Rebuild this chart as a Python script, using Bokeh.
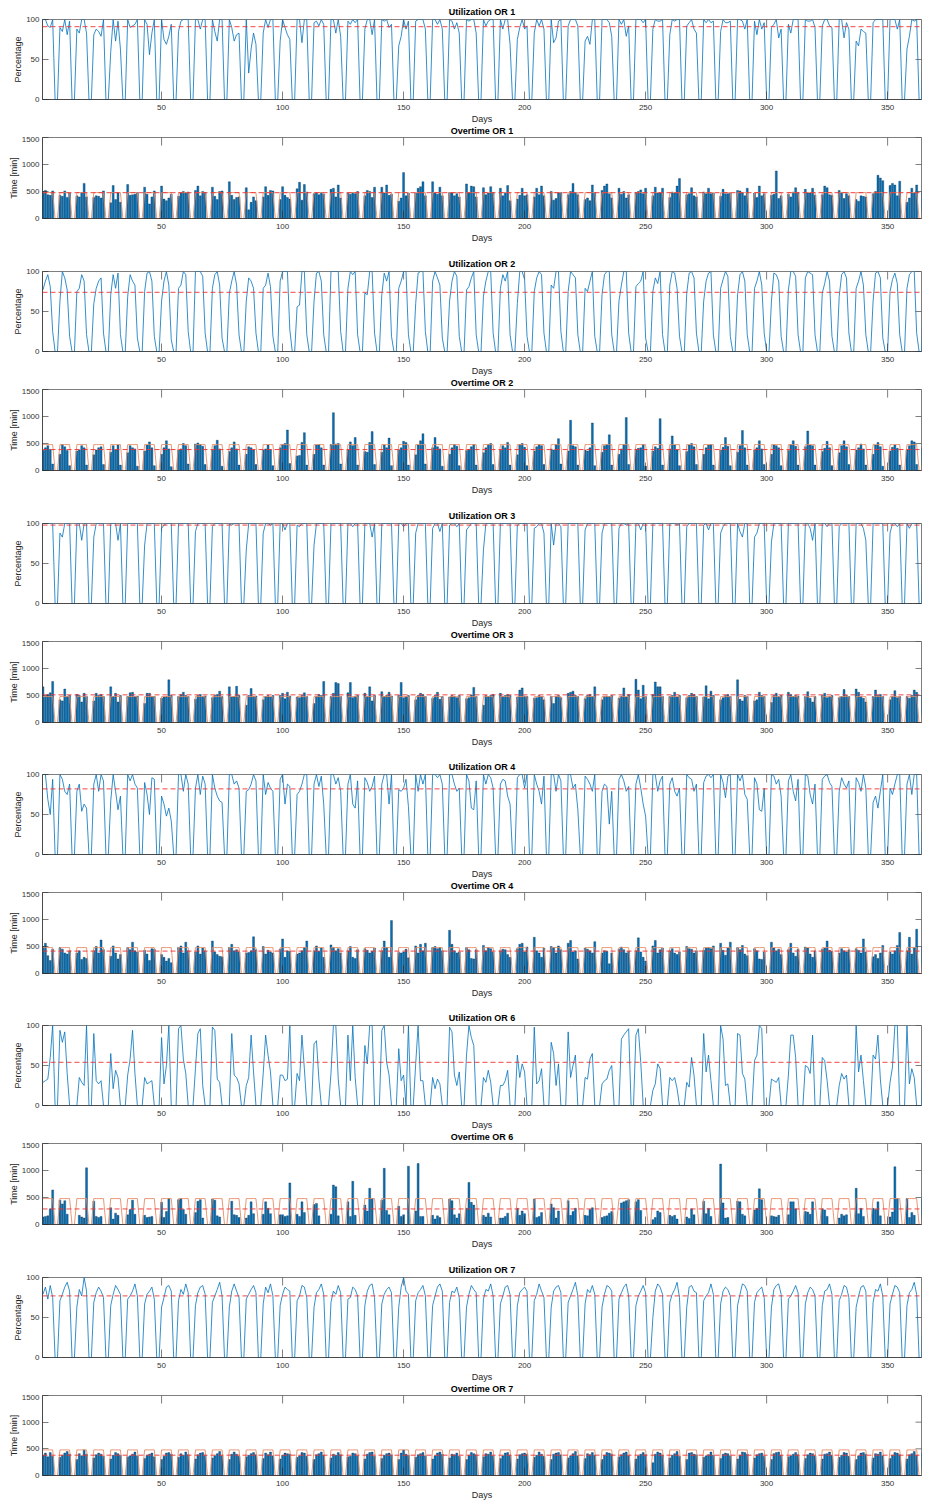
from bokeh.plotting import figure
from bokeh.layouts import column
from bokeh.models import Range1d, FixedTicker, Span, Title
from bokeh.embed import file_html
from bokeh.resources import INLINE

# ---------------------------------------------------------------- data
days = list(range(1, 366))
x_ticks = [50, 100, 150, 200, 250, 300, 350]
util_ticks = [0, 50, 100]
time_ticks = [0, 500, 1000, 1500]
X_START, X_END = 0.8, 364.0

# daily block capacity in minutes (weekdays 480, weekends closed)
capacity = [
    480, 480, 480, 480, 480, 0, 0, 480, 480, 480, 480, 480, 0, 0,
    480, 480, 480, 480, 480, 0, 0, 480, 480, 480, 480, 480, 0, 0,
    480, 480, 480, 480, 480, 0, 0, 480, 480, 480, 480, 480, 0, 0,
    480, 480, 480, 480, 480, 0, 0, 480, 480, 480, 480, 480, 0, 0,
    480, 480, 480, 480, 480, 0, 0, 480, 480, 480, 480, 480, 0, 0,
    480, 480, 480, 480, 480, 0, 0, 480, 480, 480, 480, 480, 0, 0,
    480, 480, 480, 480, 480, 0, 0, 480, 480, 480, 480, 480, 0, 0,
    480, 480, 480, 480, 480, 0, 0, 480, 480, 480, 480, 480, 0, 0,
    480, 480, 480, 480, 480, 0, 0, 480, 480, 480, 480, 480, 0, 0,
    480, 480, 480, 480, 480, 0, 0, 480, 480, 480, 480, 480, 0, 0,
    480, 480, 480, 480, 480, 0, 0, 480, 480, 480, 480, 480, 0, 0,
    480, 480, 480, 480, 480, 0, 0, 480, 480, 480, 480, 480, 0, 0,
    480, 480, 480, 480, 480, 0, 0, 480, 480, 480, 480, 480, 0, 0,
    480, 480, 480, 480, 480, 0, 0, 480, 480, 480, 480, 480, 0, 0,
    480, 480, 480, 480, 480, 0, 0, 480, 480, 480, 480, 480, 0, 0,
    480, 480, 480, 480, 480, 0, 0, 480, 480, 480, 480, 480, 0, 0,
    480, 480, 480, 480, 480, 0, 0, 480, 480, 480, 480, 480, 0, 0,
    480, 480, 480, 480, 480, 0, 0, 480, 480, 480, 480, 480, 0, 0,
    480, 480, 480, 480, 480, 0, 0, 480, 480, 480, 480, 480, 0, 0,
    480, 480, 480, 480, 480, 0, 0, 480, 480, 480, 480, 480, 0, 0,
    480, 480, 480, 480, 480, 0, 0, 480, 480, 480, 480, 480, 0, 0,
    480, 480, 480, 480, 480, 0, 0, 480, 480, 480, 480, 480, 0, 0,
    480, 480, 480, 480, 480, 0, 0, 480, 480, 480, 480, 480, 0, 0,
    480, 480, 480, 480, 480, 0, 0, 480, 480, 480, 480, 480, 0, 0,
    480, 480, 480, 480, 480, 0, 0, 480, 480, 480, 480, 480, 0, 0,
    480, 480, 480, 480, 480, 0, 0, 480, 480, 480, 480, 480, 0, 0,
    480,
]

# ---- OR 1
or1_minutes = [
    500, 520, 440, 430, 510, 0, 0,
    430, 410, 510, 390, 470, 0, 0,
    420, 400, 480, 650, 400, 0, 0,
    390, 420, 410, 380, 510, 0, 0,
    290, 610, 350, 470, 300, 0, 0,
    630, 430, 440, 450, 480, 0, 0,
    580, 450, 270, 400, 510, 0, 0,
    600, 360, 330, 380, 450, 0, 0,
    410, 470, 500, 480, 490, 0, 0,
    520, 600, 420, 500, 480, 0, 0,
    580, 410, 350, 500, 510, 0, 0,
    680, 430, 350, 390, 400, 0, 0,
    570, 160, 300, 400, 330, 0, 0,
    400, 590, 430, 520, 510, 0, 0,
    350, 590, 430, 390, 360, 0, 0,
    550, 670, 340, 630, 490, 0, 0,
    460, 470, 440, 480, 450, 0, 0,
    540, 560, 400, 620, 380, 0, 0,
    470, 450, 480, 460, 500, 0, 0,
    420, 520, 500, 390, 580, 0, 0,
    580, 470, 620, 430, 450, 0, 0,
    320, 380, 850, 420, 470, 0, 0,
    470, 560, 590, 680, 420, 0, 0,
    680, 480, 450, 580, 420, 0, 0,
    480, 470, 420, 460, 400, 0, 0,
    640, 470, 600, 590, 400, 0, 0,
    570, 440, 470, 590, 480, 0, 0,
    560, 420, 480, 610, 330, 0, 0,
    360, 430, 560, 420, 440, 0, 0,
    400, 560, 440, 600, 420, 0, 0,
    500, 340, 370, 470, 480, 0, 0,
    440, 500, 650, 480, 440, 0, 0,
    350, 380, 330, 620, 480, 0, 0,
    520, 600, 640, 460, 380, 0, 0,
    560, 450, 500, 380, 440, 0, 0,
    480, 500, 530, 460, 560, 0, 0,
    420, 580, 470, 470, 560, 0, 0,
    390, 490, 470, 600, 740, 0, 0,
    440, 460, 570, 420, 400, 0, 0,
    490, 460, 560, 460, 470, 0, 0,
    410, 540, 460, 460, 470, 0, 0,
    520, 510, 470, 420, 560, 0, 0,
    470, 390, 600, 420, 460, 0, 0,
    430, 450, 880, 370, 420, 0, 0,
    450, 400, 490, 570, 480, 0, 0,
    540, 470, 470, 560, 430, 0, 0,
    440, 600, 570, 440, 430, 0, 0,
    520, 480, 370, 460, 420, 0, 0,
    350, 320, 420, 410, 400, 0, 0,
    460, 500, 800, 750, 700, 0, 0,
    610, 650, 620, 420, 690, 0, 0,
    300, 380, 560, 470, 620, 0, 0,
    500,
]
or1_util = [
    100, 100, 92, 90, 100, 0, 0,
    90, 85, 100, 81, 98, 0, 0,
    88, 83, 100, 100, 83, 0, 0,
    81, 88, 85, 79, 100, 0, 0,
    60, 100, 73, 98, 63, 0, 0,
    100, 90, 92, 94, 100, 0, 0,
    100, 94, 56, 83, 100, 0, 0,
    100, 75, 69, 79, 94, 0, 0,
    85, 98, 100, 100, 100, 0, 0,
    100, 100, 88, 100, 100, 0, 0,
    100, 85, 73, 100, 100, 0, 0,
    100, 90, 73, 81, 83, 0, 0,
    100, 33, 63, 83, 69, 0, 0,
    83, 100, 90, 100, 100, 0, 0,
    73, 100, 90, 81, 75, 0, 0,
    100, 100, 71, 100, 100, 0, 0,
    96, 98, 92, 100, 94, 0, 0,
    100, 100, 83, 100, 79, 0, 0,
    98, 94, 100, 96, 100, 0, 0,
    88, 100, 100, 81, 100, 0, 0,
    100, 98, 100, 90, 94, 0, 0,
    67, 79, 100, 88, 98, 0, 0,
    98, 100, 100, 100, 88, 0, 0,
    100, 100, 94, 100, 88, 0, 0,
    100, 98, 88, 96, 83, 0, 0,
    100, 98, 100, 100, 83, 0, 0,
    100, 92, 98, 100, 100, 0, 0,
    100, 88, 100, 100, 69, 0, 0,
    75, 90, 100, 88, 92, 0, 0,
    83, 100, 92, 100, 88, 0, 0,
    100, 71, 77, 98, 100, 0, 0,
    92, 100, 100, 100, 92, 0, 0,
    73, 79, 69, 100, 100, 0, 0,
    100, 100, 100, 96, 79, 0, 0,
    100, 94, 100, 79, 92, 0, 0,
    100, 100, 100, 96, 100, 0, 0,
    88, 100, 98, 98, 100, 0, 0,
    81, 100, 98, 100, 100, 0, 0,
    92, 96, 100, 88, 83, 0, 0,
    100, 96, 100, 96, 98, 0, 0,
    85, 100, 96, 96, 98, 0, 0,
    100, 100, 98, 88, 100, 0, 0,
    98, 81, 100, 88, 96, 0, 0,
    90, 94, 100, 77, 88, 0, 0,
    94, 83, 100, 100, 100, 0, 0,
    100, 98, 98, 100, 90, 0, 0,
    92, 100, 100, 92, 90, 0, 0,
    100, 100, 77, 96, 88, 0, 0,
    73, 67, 88, 85, 83, 0, 0,
    96, 100, 100, 100, 100, 0, 0,
    100, 100, 100, 88, 100, 0, 0,
    63, 79, 100, 98, 100, 0, 0,
    100,
]

# ---- OR 2
or2_minutes = [
    370, 420, 460, 390, 120, 0, 0,
    300, 480, 440, 370, 90, 0, 0,
    360, 380, 460, 420, 100, 0, 0,
    290, 380, 420, 440, 110, 0, 0,
    340, 460, 380, 470, 100, 0, 0,
    330, 460, 420, 400, 80, 0, 0,
    360, 470, 530, 420, 90, 0, 0,
    300, 420, 550, 400, 70, 0, 0,
    380, 400, 500, 460, 120, 0, 0,
    490, 510, 480, 450, 110, 0, 0,
    380, 460, 560, 400, 80, 0, 0,
    350, 420, 530, 400, 100, 0, 0,
    300, 440, 420, 380, 110, 0, 0,
    380, 400, 470, 390, 90, 0, 0,
    420, 480, 500, 750, 130, 0, 0,
    270, 280, 520, 700, 100, 0, 0,
    300, 470, 480, 420, 100, 0, 0,
    480, 1070, 490, 500, 120, 0, 0,
    380, 530, 460, 610, 100, 0, 0,
    350, 340, 520, 720, 110, 0, 0,
    340, 470, 420, 600, 90, 0, 0,
    380, 420, 540, 520, 100, 0, 0,
    290, 470, 550, 680, 120, 0, 0,
    420, 610, 440, 400, 80, 0, 0,
    300, 420, 480, 450, 90, 0, 0,
    370, 390, 440, 480, 100, 0, 0,
    330, 420, 480, 500, 110, 0, 0,
    380, 460, 420, 520, 100, 0, 0,
    290, 480, 500, 430, 90, 0, 0,
    360, 440, 480, 460, 110, 0, 0,
    400, 380, 480, 590, 120, 0, 0,
    360, 930, 460, 440, 100, 0, 0,
    380, 360, 420, 880, 90, 0, 0,
    340, 460, 480, 660, 100, 0, 0,
    300, 400, 480, 980, 110, 0, 0,
    390, 410, 420, 480, 80, 0, 0,
    360, 440, 410, 960, 100, 0, 0,
    400, 640, 470, 380, 90, 0, 0,
    350, 470, 500, 440, 110, 0, 0,
    300, 420, 470, 480, 100, 0, 0,
    380, 430, 610, 450, 90, 0, 0,
    340, 460, 740, 420, 100, 0, 0,
    380, 420, 550, 400, 110, 0, 0,
    300, 470, 460, 420, 90, 0, 0,
    370, 480, 550, 450, 100, 0, 0,
    440, 730, 470, 460, 100, 0, 0,
    350, 410, 540, 420, 90, 0, 0,
    330, 460, 550, 440, 110, 0, 0,
    380, 420, 490, 400, 100, 0, 0,
    300, 470, 520, 440, 80, 0, 0,
    360, 430, 470, 410, 100, 0, 0,
    380, 460, 550, 530, 110, 0, 0,
    420,
]
or2_util = [
    77, 88, 96, 81, 25, 0, 0,
    63, 100, 92, 77, 19, 0, 0,
    75, 79, 96, 88, 21, 0, 0,
    60, 79, 88, 92, 23, 0, 0,
    71, 96, 79, 98, 21, 0, 0,
    69, 96, 88, 83, 17, 0, 0,
    75, 98, 100, 88, 19, 0, 0,
    63, 88, 100, 83, 15, 0, 0,
    79, 83, 100, 96, 25, 0, 0,
    100, 100, 100, 94, 23, 0, 0,
    79, 96, 100, 83, 17, 0, 0,
    73, 88, 100, 83, 21, 0, 0,
    63, 92, 88, 79, 23, 0, 0,
    79, 83, 98, 81, 19, 0, 0,
    88, 100, 100, 100, 27, 0, 0,
    56, 58, 100, 100, 21, 0, 0,
    63, 98, 100, 88, 21, 0, 0,
    100, 100, 100, 100, 25, 0, 0,
    79, 100, 96, 100, 21, 0, 0,
    73, 71, 100, 100, 23, 0, 0,
    71, 98, 88, 100, 19, 0, 0,
    79, 88, 100, 100, 21, 0, 0,
    60, 98, 100, 100, 25, 0, 0,
    88, 100, 92, 83, 17, 0, 0,
    63, 88, 100, 94, 19, 0, 0,
    77, 81, 92, 100, 21, 0, 0,
    69, 88, 100, 100, 23, 0, 0,
    79, 96, 88, 100, 21, 0, 0,
    60, 100, 100, 90, 19, 0, 0,
    75, 92, 100, 96, 23, 0, 0,
    83, 79, 100, 100, 25, 0, 0,
    75, 100, 96, 92, 21, 0, 0,
    79, 75, 88, 100, 19, 0, 0,
    71, 96, 100, 100, 21, 0, 0,
    63, 83, 100, 100, 23, 0, 0,
    81, 85, 88, 100, 17, 0, 0,
    75, 92, 85, 100, 21, 0, 0,
    83, 100, 98, 79, 19, 0, 0,
    73, 98, 100, 92, 23, 0, 0,
    63, 88, 98, 100, 21, 0, 0,
    79, 90, 100, 94, 19, 0, 0,
    71, 96, 100, 88, 21, 0, 0,
    79, 88, 100, 83, 23, 0, 0,
    63, 98, 96, 88, 19, 0, 0,
    77, 100, 100, 94, 21, 0, 0,
    92, 100, 98, 96, 21, 0, 0,
    73, 85, 100, 88, 19, 0, 0,
    69, 96, 100, 92, 23, 0, 0,
    79, 88, 100, 83, 21, 0, 0,
    63, 98, 100, 92, 17, 0, 0,
    75, 90, 98, 85, 21, 0, 0,
    79, 96, 100, 100, 23, 0, 0,
    88,
]

# ---- OR 3
or3_minutes = [
    660, 480, 520, 550, 760, 0, 0,
    420, 400, 620, 480, 500, 0, 0,
    520, 500, 380, 540, 480, 0, 0,
    400, 540, 500, 520, 480, 0, 0,
    660, 480, 540, 380, 500, 0, 0,
    480, 550, 560, 480, 490, 0, 0,
    350, 540, 540, 480, 480, 0, 0,
    450, 470, 480, 790, 500, 0, 0,
    480, 520, 560, 500, 480, 0, 0,
    430, 500, 520, 480, 490, 0, 0,
    460, 500, 520, 580, 480, 0, 0,
    660, 470, 480, 670, 500, 0, 0,
    320, 500, 630, 480, 490, 0, 0,
    420, 480, 500, 470, 500, 0, 0,
    500, 540, 440, 560, 490, 0, 0,
    470, 460, 500, 550, 480, 0, 0,
    350, 480, 520, 500, 760, 0, 0,
    480, 540, 740, 720, 480, 0, 0,
    550, 740, 460, 480, 500, 0, 0,
    540, 480, 660, 400, 500, 0, 0,
    570, 480, 500, 560, 490, 0, 0,
    500, 740, 460, 480, 500, 0, 0,
    420, 500, 540, 520, 480, 0, 0,
    450, 500, 560, 430, 480, 0, 0,
    470, 500, 480, 460, 500, 0, 0,
    440, 460, 510, 650, 480, 0, 0,
    320, 500, 480, 500, 520, 0, 0,
    540, 480, 500, 520, 500, 0, 0,
    470, 600, 640, 490, 480, 0, 0,
    450, 460, 500, 480, 420, 0, 0,
    480, 350, 480, 500, 460, 0, 0,
    540, 560, 580, 500, 480, 0, 0,
    440, 500, 520, 480, 660, 0, 0,
    420, 480, 490, 480, 500, 0, 0,
    450, 490, 640, 470, 520, 0, 0,
    800, 600, 440, 690, 480, 0, 0,
    520, 750, 660, 660, 480, 0, 0,
    480, 500, 560, 470, 500, 0, 0,
    460, 500, 540, 520, 480, 0, 0,
    470, 680, 440, 580, 500, 0, 0,
    420, 460, 500, 520, 480, 0, 0,
    790, 430, 400, 500, 480, 0, 0,
    400, 420, 560, 500, 480, 0, 0,
    370, 500, 540, 480, 500, 0, 0,
    560, 520, 480, 500, 490, 0, 0,
    480, 570, 450, 380, 480, 0, 0,
    500, 540, 460, 480, 500, 0, 0,
    460, 480, 610, 500, 480, 0, 0,
    620, 560, 480, 450, 380, 0, 0,
    480, 600, 500, 520, 480, 0, 0,
    420, 480, 590, 460, 480, 0, 0,
    480, 450, 500, 600, 560, 0, 0,
    500,
]
or3_util = [
    100, 100, 100, 100, 100, 0, 0,
    88, 83, 100, 100, 100, 0, 0,
    100, 100, 79, 100, 100, 0, 0,
    83, 100, 100, 100, 100, 0, 0,
    100, 100, 100, 79, 100, 0, 0,
    100, 100, 100, 100, 100, 0, 0,
    73, 100, 100, 100, 100, 0, 0,
    94, 98, 100, 100, 100, 0, 0,
    100, 100, 100, 100, 100, 0, 0,
    90, 100, 100, 100, 100, 0, 0,
    96, 100, 100, 100, 100, 0, 0,
    100, 98, 100, 100, 100, 0, 0,
    67, 100, 100, 100, 100, 0, 0,
    88, 100, 100, 98, 100, 0, 0,
    100, 100, 92, 100, 100, 0, 0,
    98, 96, 100, 100, 100, 0, 0,
    73, 100, 100, 100, 100, 0, 0,
    100, 100, 100, 100, 100, 0, 0,
    100, 100, 96, 100, 100, 0, 0,
    100, 100, 100, 83, 100, 0, 0,
    100, 100, 100, 100, 100, 0, 0,
    100, 100, 96, 100, 100, 0, 0,
    88, 100, 100, 100, 100, 0, 0,
    94, 100, 100, 90, 100, 0, 0,
    98, 100, 100, 96, 100, 0, 0,
    92, 96, 100, 100, 100, 0, 0,
    67, 100, 100, 100, 100, 0, 0,
    100, 100, 100, 100, 100, 0, 0,
    98, 100, 100, 100, 100, 0, 0,
    94, 96, 100, 100, 88, 0, 0,
    100, 73, 100, 100, 96, 0, 0,
    100, 100, 100, 100, 100, 0, 0,
    92, 100, 100, 100, 100, 0, 0,
    88, 100, 100, 100, 100, 0, 0,
    94, 100, 100, 98, 100, 0, 0,
    100, 100, 92, 100, 100, 0, 0,
    100, 100, 100, 100, 100, 0, 0,
    100, 100, 100, 98, 100, 0, 0,
    96, 100, 100, 100, 100, 0, 0,
    98, 100, 92, 100, 100, 0, 0,
    88, 96, 100, 100, 100, 0, 0,
    100, 90, 83, 100, 100, 0, 0,
    83, 88, 100, 100, 100, 0, 0,
    77, 100, 100, 100, 100, 0, 0,
    100, 100, 100, 100, 100, 0, 0,
    100, 100, 94, 79, 100, 0, 0,
    100, 100, 96, 100, 100, 0, 0,
    96, 100, 100, 100, 100, 0, 0,
    100, 100, 100, 94, 79, 0, 0,
    100, 100, 100, 100, 100, 0, 0,
    88, 100, 100, 96, 100, 0, 0,
    100, 94, 100, 100, 100, 0, 0,
    100,
]

# ---- OR 4
or4_minutes = [
    500, 560, 330, 240, 450, 0, 0,
    480, 450, 380, 360, 420, 0, 0,
    380, 420, 260, 300, 280, 0, 0,
    420, 500, 380, 620, 440, 0, 0,
    320, 510, 380, 270, 350, 0, 0,
    480, 440, 580, 420, 400, 0, 0,
    430, 360, 240, 460, 450, 0, 0,
    350, 300, 230, 280, 200, 0, 0,
    480, 510, 380, 580, 420, 0, 0,
    400, 510, 360, 470, 420, 0, 0,
    600, 400, 350, 320, 310, 0, 0,
    480, 540, 420, 440, 400, 0, 0,
    380, 390, 420, 680, 440, 0, 0,
    500, 360, 430, 400, 380, 0, 0,
    450, 640, 300, 420, 410, 0, 0,
    360, 380, 420, 480, 600, 0, 0,
    420, 510, 410, 470, 300, 0, 0,
    530, 480, 420, 460, 380, 0, 0,
    420, 500, 300, 280, 440, 0, 0,
    460, 430, 380, 410, 470, 0, 0,
    420, 600, 480, 300, 980, 0, 0,
    390, 380, 400, 450, 290, 0, 0,
    510, 380, 540, 420, 560, 0, 0,
    480, 500, 460, 480, 420, 0, 0,
    800, 540, 420, 380, 400, 0, 0,
    480, 440, 280, 270, 440, 0, 0,
    520, 420, 480, 460, 400, 0, 0,
    420, 450, 440, 350, 300, 0, 0,
    460, 540, 560, 400, 490, 0, 0,
    670, 420, 380, 300, 470, 0, 0,
    500, 480, 380, 510, 440, 0, 0,
    560, 610, 400, 420, 270, 0, 0,
    470, 450, 420, 380, 590, 0, 0,
    380, 420, 410, 180, 380, 0, 0,
    450, 490, 440, 380, 410, 0, 0,
    420, 660, 400, 300, 230, 0, 0,
    510, 610, 380, 440, 470, 0, 0,
    420, 460, 380, 350, 400, 0, 0,
    500, 460, 450, 380, 420, 0, 0,
    430, 470, 480, 460, 510, 0, 0,
    560, 430, 340, 470, 580, 0, 0,
    480, 440, 520, 360, 330, 0, 0,
    460, 420, 270, 260, 400, 0, 0,
    580, 470, 420, 450, 350, 0, 0,
    440, 560, 380, 320, 450, 0, 0,
    490, 470, 360, 300, 420, 0, 0,
    450, 470, 600, 430, 410, 0, 0,
    380, 460, 420, 400, 440, 0, 0,
    460, 430, 380, 640, 400, 0, 0,
    310, 350, 280, 380, 520, 0, 0,
    400, 360, 420, 520, 760, 0, 0,
    420, 670, 360, 480, 820, 0, 0,
    500,
]
or4_util = [
    100, 100, 69, 50, 94, 0, 0,
    100, 94, 79, 75, 88, 0, 0,
    79, 88, 54, 63, 58, 0, 0,
    88, 100, 79, 100, 92, 0, 0,
    67, 100, 79, 56, 73, 0, 0,
    100, 92, 100, 88, 83, 0, 0,
    90, 75, 50, 96, 94, 0, 0,
    73, 63, 48, 58, 42, 0, 0,
    100, 100, 79, 100, 88, 0, 0,
    83, 100, 75, 98, 88, 0, 0,
    100, 83, 73, 67, 65, 0, 0,
    100, 100, 88, 92, 83, 0, 0,
    79, 81, 88, 100, 92, 0, 0,
    100, 75, 90, 83, 79, 0, 0,
    94, 100, 63, 88, 85, 0, 0,
    75, 79, 88, 100, 100, 0, 0,
    88, 100, 85, 98, 63, 0, 0,
    100, 100, 88, 96, 79, 0, 0,
    88, 100, 63, 58, 92, 0, 0,
    96, 90, 79, 85, 98, 0, 0,
    88, 100, 100, 63, 100, 0, 0,
    81, 79, 83, 94, 60, 0, 0,
    100, 79, 100, 88, 100, 0, 0,
    100, 100, 96, 100, 88, 0, 0,
    100, 100, 88, 79, 83, 0, 0,
    100, 92, 58, 56, 92, 0, 0,
    100, 88, 100, 96, 83, 0, 0,
    88, 94, 92, 73, 63, 0, 0,
    96, 100, 100, 83, 100, 0, 0,
    100, 88, 79, 63, 98, 0, 0,
    100, 100, 79, 100, 92, 0, 0,
    100, 100, 83, 88, 56, 0, 0,
    98, 94, 88, 79, 100, 0, 0,
    79, 88, 85, 38, 79, 0, 0,
    94, 100, 92, 79, 85, 0, 0,
    88, 100, 83, 63, 48, 0, 0,
    100, 100, 79, 92, 98, 0, 0,
    88, 96, 79, 73, 83, 0, 0,
    100, 96, 94, 79, 88, 0, 0,
    90, 98, 100, 96, 100, 0, 0,
    100, 90, 71, 98, 100, 0, 0,
    100, 92, 100, 75, 69, 0, 0,
    96, 88, 56, 54, 83, 0, 0,
    100, 98, 88, 94, 73, 0, 0,
    92, 100, 79, 67, 94, 0, 0,
    100, 98, 75, 63, 88, 0, 0,
    94, 98, 100, 90, 85, 0, 0,
    79, 96, 88, 83, 92, 0, 0,
    96, 90, 79, 100, 83, 0, 0,
    65, 73, 58, 79, 100, 0, 0,
    83, 75, 88, 100, 100, 0, 0,
    88, 100, 75, 100, 100, 0, 0,
    100,
]

# ---- OR 6
or6_minutes = [
    140, 150, 160, 290, 640, 0, 0,
    450, 380, 440, 190, 0, 0, 0,
    0, 170, 140, 120, 1050, 0, 0,
    430, 150, 130, 150, 0, 0, 0,
    310, 100, 210, 170, 0, 0, 0,
    180, 280, 450, 190, 0, 0, 0,
    170, 130, 140, 150, 0, 0, 0,
    410, 130, 240, 480, 0, 0, 0,
    460, 480, 280, 190, 0, 0, 0,
    220, 430, 460, 120, 0, 0, 0,
    470, 450, 160, 140, 0, 0, 0,
    0, 430, 180, 170, 130, 0, 0,
    120, 170, 420, 200, 0, 0, 0,
    190, 420, 300, 200, 0, 0, 0,
    180, 180, 150, 160, 770, 0, 0,
    190, 150, 420, 220, 0, 0, 0,
    370, 390, 160, 0, 0, 0, 0,
    190, 730, 700, 160, 0, 0, 0,
    420, 150, 800, 170, 0, 0, 0,
    360, 250, 670, 480, 0, 0, 0,
    450, 1040, 260, 180, 0, 0, 0,
    340, 150, 180, 0, 1080, 0, 0,
    250, 1130, 150, 150, 0, 0, 0,
    170, 100, 160, 130, 0, 0, 0,
    470, 440, 180, 120, 200, 0, 0,
    300, 780, 410, 360, 0, 0, 0,
    170, 140, 210, 140, 0, 0, 0,
    120, 120, 150, 210, 0, 0, 0,
    300, 170, 250, 200, 0, 0, 0,
    470, 130, 150, 220, 0, 0, 0,
    380, 310, 120, 250, 0, 0, 0,
    440, 170, 240, 300, 0, 0, 0,
    170, 160, 280, 310, 0, 0, 0,
    130, 150, 160, 210, 240, 0, 0,
    0, 400, 420, 440, 460, 0, 0,
    420, 460, 260, 0, 0, 0, 0,
    90, 130, 250, 220, 0, 0, 0,
    170, 150, 170, 100, 0, 0, 0,
    140, 110, 290, 180, 0, 0, 0,
    430, 200, 300, 150, 0, 0, 0,
    1120, 400, 120, 130, 0, 0, 0,
    430, 420, 190, 160, 0, 0, 0,
    270, 300, 660, 460, 0, 0, 0,
    160, 150, 140, 170, 0, 0, 0,
    180, 420, 420, 290, 0, 0, 0,
    240, 230, 190, 420, 0, 0, 0,
    290, 270, 150, 0, 0, 0, 0,
    120, 190, 160, 180, 0, 0, 0,
    670, 200, 300, 150, 0, 0, 0,
    300, 280, 420, 160, 0, 0, 0,
    140, 230, 1070, 480, 0, 0, 0,
    480, 130, 220, 170, 0, 0, 0,
    480,
]
or6_util = [
    29, 31, 33, 60, 100, 0, 0,
    94, 79, 92, 40, 0, 0, 0,
    0, 35, 29, 25, 100, 0, 0,
    90, 31, 27, 31, 0, 0, 0,
    65, 21, 44, 35, 0, 0, 0,
    38, 58, 94, 40, 0, 0, 0,
    35, 27, 29, 31, 0, 0, 0,
    85, 27, 50, 100, 0, 0, 0,
    96, 100, 58, 40, 0, 0, 0,
    46, 90, 96, 25, 0, 0, 0,
    98, 94, 33, 29, 0, 0, 0,
    0, 90, 38, 35, 27, 0, 0,
    25, 35, 88, 42, 0, 0, 0,
    40, 88, 63, 42, 0, 0, 0,
    38, 38, 31, 33, 100, 0, 0,
    40, 31, 88, 46, 0, 0, 0,
    77, 81, 33, 0, 0, 0, 0,
    40, 100, 100, 33, 0, 0, 0,
    88, 31, 100, 35, 0, 0, 0,
    75, 52, 100, 100, 0, 0, 0,
    94, 100, 54, 38, 0, 0, 0,
    71, 31, 38, 0, 100, 0, 0,
    52, 100, 31, 31, 0, 0, 0,
    35, 21, 33, 27, 0, 0, 0,
    98, 92, 38, 25, 42, 0, 0,
    63, 100, 85, 75, 0, 0, 0,
    35, 29, 44, 29, 0, 0, 0,
    25, 25, 31, 44, 0, 0, 0,
    63, 35, 52, 42, 0, 0, 0,
    98, 27, 31, 46, 0, 0, 0,
    79, 65, 25, 52, 0, 0, 0,
    92, 35, 50, 63, 0, 0, 0,
    35, 33, 58, 65, 0, 0, 0,
    27, 31, 33, 44, 50, 0, 0,
    0, 83, 88, 92, 96, 0, 0,
    88, 96, 54, 0, 0, 0, 0,
    19, 27, 52, 46, 0, 0, 0,
    35, 31, 35, 21, 0, 0, 0,
    29, 23, 60, 38, 0, 0, 0,
    90, 42, 63, 31, 0, 0, 0,
    100, 83, 25, 27, 0, 0, 0,
    90, 88, 40, 33, 0, 0, 0,
    56, 63, 100, 96, 0, 0, 0,
    33, 31, 29, 35, 0, 0, 0,
    38, 88, 88, 60, 0, 0, 0,
    50, 48, 40, 88, 0, 0, 0,
    60, 56, 31, 0, 0, 0, 0,
    25, 40, 33, 38, 0, 0, 0,
    100, 42, 63, 31, 0, 0, 0,
    63, 58, 88, 33, 0, 0, 0,
    29, 48, 100, 100, 0, 0, 0,
    100, 27, 46, 35, 0, 0, 0,
    100,
]

# ---- OR 7
or7_minutes = [
    380, 420, 350, 430, 360, 0, 0,
    340, 380, 420, 450, 400, 0, 0,
    300, 410, 370, 480, 400, 0, 0,
    330, 390, 420, 400, 360, 0, 0,
    310, 380, 430, 410, 380, 0, 0,
    350, 370, 400, 440, 370, 0, 0,
    320, 380, 400, 420, 350, 0, 0,
    300, 360, 420, 430, 400, 0, 0,
    340, 410, 380, 440, 390, 0, 0,
    310, 390, 420, 430, 380, 0, 0,
    330, 370, 410, 450, 370, 0, 0,
    300, 400, 440, 400, 360, 0, 0,
    350, 380, 410, 430, 390, 0, 0,
    320, 420, 390, 440, 370, 0, 0,
    310, 380, 420, 410, 400, 0, 0,
    340, 370, 430, 420, 360, 0, 0,
    300, 390, 410, 440, 380, 0, 0,
    330, 400, 380, 430, 390, 0, 0,
    350, 360, 420, 410, 370, 0, 0,
    310, 400, 430, 440, 360, 0, 0,
    320, 380, 410, 420, 390, 0, 0,
    300, 420, 480, 400, 380, 0, 0,
    340, 390, 410, 430, 370, 0, 0,
    310, 370, 420, 440, 400, 0, 0,
    330, 400, 390, 420, 360, 0, 0,
    300, 380, 430, 410, 390, 0, 0,
    350, 410, 400, 440, 370, 0, 0,
    320, 370, 420, 430, 380, 0, 0,
    310, 390, 410, 420, 400, 0, 0,
    340, 380, 440, 400, 360, 0, 0,
    300, 400, 420, 430, 390, 0, 0,
    330, 370, 410, 450, 370, 0, 0,
    320, 410, 390, 430, 380, 0, 0,
    300, 380, 430, 420, 400, 0, 0,
    350, 390, 420, 440, 370, 0, 0,
    310, 370, 400, 430, 390, 0, 0,
    240, 400, 440, 420, 380, 0, 0,
    330, 380, 410, 450, 360, 0, 0,
    300, 420, 430, 400, 390, 0, 0,
    340, 370, 390, 440, 380, 0, 0,
    320, 400, 420, 410, 370, 0, 0,
    310, 380, 440, 430, 400, 0, 0,
    330, 390, 410, 420, 360, 0, 0,
    300, 410, 430, 440, 380, 0, 0,
    350, 370, 400, 430, 390, 0, 0,
    320, 390, 420, 410, 370, 0, 0,
    310, 400, 410, 440, 380, 0, 0,
    340, 380, 430, 420, 360, 0, 0,
    300, 370, 420, 430, 400, 0, 0,
    330, 410, 400, 440, 370, 0, 0,
    320, 380, 430, 420, 390, 0, 0,
    310, 390, 410, 450, 380, 0, 0,
    420,
]
or7_util = [
    79, 88, 73, 90, 75, 0, 0,
    71, 79, 88, 94, 83, 0, 0,
    63, 85, 77, 100, 83, 0, 0,
    69, 81, 88, 83, 75, 0, 0,
    65, 79, 90, 85, 79, 0, 0,
    73, 77, 83, 92, 77, 0, 0,
    67, 79, 83, 88, 73, 0, 0,
    63, 75, 88, 90, 83, 0, 0,
    71, 85, 79, 92, 81, 0, 0,
    65, 81, 88, 90, 79, 0, 0,
    69, 77, 85, 94, 77, 0, 0,
    63, 83, 92, 83, 75, 0, 0,
    73, 79, 85, 90, 81, 0, 0,
    67, 88, 81, 92, 77, 0, 0,
    65, 79, 88, 85, 83, 0, 0,
    71, 77, 90, 88, 75, 0, 0,
    63, 81, 85, 92, 79, 0, 0,
    69, 83, 79, 90, 81, 0, 0,
    73, 75, 88, 85, 77, 0, 0,
    65, 83, 90, 92, 75, 0, 0,
    67, 79, 85, 88, 81, 0, 0,
    63, 88, 100, 83, 79, 0, 0,
    71, 81, 85, 90, 77, 0, 0,
    65, 77, 88, 92, 83, 0, 0,
    69, 83, 81, 88, 75, 0, 0,
    63, 79, 90, 85, 81, 0, 0,
    73, 85, 83, 92, 77, 0, 0,
    67, 77, 88, 90, 79, 0, 0,
    65, 81, 85, 88, 83, 0, 0,
    71, 79, 92, 83, 75, 0, 0,
    63, 83, 88, 90, 81, 0, 0,
    69, 77, 85, 94, 77, 0, 0,
    67, 85, 81, 90, 79, 0, 0,
    63, 79, 90, 88, 83, 0, 0,
    73, 81, 88, 92, 77, 0, 0,
    65, 77, 83, 90, 81, 0, 0,
    50, 83, 92, 88, 79, 0, 0,
    69, 79, 85, 94, 75, 0, 0,
    63, 88, 90, 83, 81, 0, 0,
    71, 77, 81, 92, 79, 0, 0,
    67, 83, 88, 85, 77, 0, 0,
    65, 79, 92, 90, 83, 0, 0,
    69, 81, 85, 88, 75, 0, 0,
    63, 85, 90, 92, 79, 0, 0,
    73, 77, 83, 90, 81, 0, 0,
    67, 81, 88, 85, 77, 0, 0,
    65, 83, 85, 92, 79, 0, 0,
    71, 79, 90, 88, 75, 0, 0,
    63, 77, 88, 90, 83, 0, 0,
    69, 85, 83, 92, 77, 0, 0,
    67, 79, 90, 88, 81, 0, 0,
    65, 81, 85, 94, 79, 0, 0,
    88,
]

rooms = ["1", "2", "3", "4", "6", "7"]
minutes_by_room = [or1_minutes, or2_minutes, or3_minutes, or4_minutes, or6_minutes, or7_minutes]
util_by_room = [or1_util, or2_util, or3_util, or4_util, or6_util, or7_util]
util_mean = [91, 74, 98, 82, 54, 77]
minutes_mean = [478, 388, 512, 415, 288, 381]

for series in [capacity] + minutes_by_room + util_by_room:
    assert len(series) == 365, len(series)

# ---------------------------------------------------------------- style
FONT = "Liberation Sans"
AXIS_GREY = "#262626"
BLUE = "#0072BD"
ORANGE = "#E58C68"
RED = "#F03030"


def style_title(t, standoff):
    t.align = "center"
    t.text_font = FONT
    t.text_font_size = "9px"
    t.text_font_style = "bold"
    t.text_color = "#000000"
    t.standoff = standoff
    t.offset = 0


def make_panel(title, height, y_max, y_ticks, y_label, top, bottom):
    p = figure(width=925, height=height, x_range=Range1d(X_START, X_END),
               y_range=Range1d(0, y_max), output_backend="svg",
               toolbar_location=None, min_border_left=42, min_border_right=4,
               min_border_top=top, min_border_bottom=bottom)
    p.title.text = title
    style_title(p.title, 5)
    p.grid.visible = False
    p.outline_line_color = AXIS_GREY
    p.outline_line_width = 0.6
    p.background_fill_color = "white"
    p.border_fill_color = "white"

    xa = p.xaxis[0]
    xa.ticker = FixedTicker(ticks=x_ticks)
    xa.axis_label = "Days"
    ya = p.yaxis[0]
    ya.ticker = FixedTicker(ticks=y_ticks)
    ya.axis_label = y_label
    for ax in (xa, ya):
        ax.major_tick_out = 0
        ax.minor_tick_in = 0
        ax.minor_tick_out = 0
        ax.axis_line_color = AXIS_GREY
        ax.axis_line_width = 0.6
        ax.major_tick_line_color = AXIS_GREY
        ax.major_tick_line_width = 0.6
        ax.major_label_text_font = FONT
        ax.major_label_text_font_size = "8px"
        ax.major_label_text_color = "#333333"
        ax.axis_label_text_font = FONT
        ax.axis_label_text_font_size = "9px"
        ax.axis_label_text_font_style = "normal"
        ax.axis_label_text_color = "#262626"
    xa.major_tick_in = 8
    ya.major_tick_in = 6
    xa.major_label_standoff = 5
    xa.axis_label_standoff = 1
    ya.major_label_standoff = 3
    ya.axis_label_standoff = 0

    # mirrored tick marks along the top and right edges of the box
    top_len = 0.1 * y_max
    p.segment(x0=x_ticks, x1=x_ticks, y0=[y_max] * len(x_ticks),
              y1=[y_max - top_len] * len(x_ticks),
              line_color=AXIS_GREY, line_width=0.6)
    right_len = 0.0068 * (X_END - X_START)
    p.segment(x0=[X_END] * len(y_ticks), x1=[X_END - right_len] * len(y_ticks),
              y0=y_ticks, y1=y_ticks, line_color=AXIS_GREY, line_width=0.6)
    return p


# page rows: each room takes one utilization panel and one overtime panel
block_heights = [252, 252, 251, 251, 252, 244]
UTIL_H = 136          # 19 title + 80 frame + 37 (axis + overtime heading)
OT_TOP = 1
OT_FRAME = 81

panels = []
for i, room in enumerate(rooms):
    pu = make_panel(f"Utilization OR {room}", UTIL_H, 100, util_ticks,
                    "Percentage", 19, UTIL_H - 19 - 80)
    pu.line(days, util_by_room[i], line_color=BLUE, line_width=0.8)
    pu.add_layout(Span(location=util_mean[i], dimension="width",
                       line_color=RED, line_dash="5 3", line_width=0.9))
    # heading of the overtime panel that follows, set under the Days label
    heading = Title(text=f"Overtime OR {room}")
    style_title(heading, -5)
    pu.add_layout(heading, "below")
    panels.append(pu)

    h = block_heights[i] - UTIL_H
    po = make_panel("", h, 1500, time_ticks, "Time [min]",
                    OT_TOP, h - OT_TOP - OT_FRAME)
    po.vbar(x=days, top=minutes_by_room[i], width=0.8, fill_color=BLUE,
            line_color="#0b2338", line_width=0.35)
    po.line(days, capacity, line_color=ORANGE, line_width=0.9)
    po.add_layout(Span(location=minutes_mean[i], dimension="width",
                       line_color=RED, line_dash="5 3", line_width=0.9))
    panels.append(po)

layout = column(*panels, spacing=0)
open("out.html", "w").write(file_html(layout, INLINE))
